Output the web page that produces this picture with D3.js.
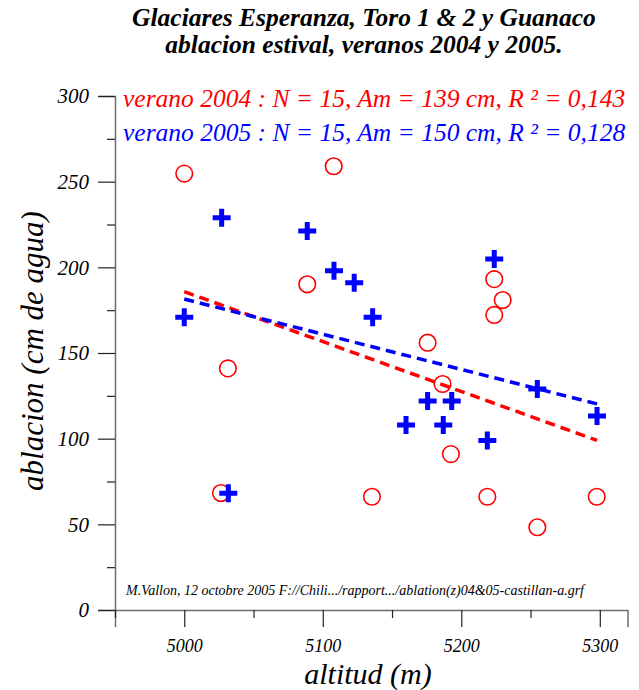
<!DOCTYPE html>
<html><head><meta charset="utf-8"><script src="https://cdn.jsdelivr.net/npm/d3@7"></script>
<style>
@font-face { font-family: "ChartSerif"; font-style: italic; font-weight: 400; src: local("Liberation Serif Italic"), local("LiberationSerif-Italic"), local("Tinos Italic"), local("Times New Roman Italic"); }
@font-face { font-family: "ChartSerif"; font-style: italic; font-weight: 700; src: local("Liberation Serif Bold Italic"), local("LiberationSerif-BoldItalic"), local("Tinos Bold Italic"), local("Times New Roman Bold Italic"); }
</style>
</head>
<body style="margin:0">
<script>
// ---- Data ----
const alt2004 = [5000, 5107.9, 5088.8, 5031.5, 5026.5, 5135.5, 5175.7, 5186.5, 5192.5, 5223.8, 5229.9, 5223.8, 5218.8, 5254.9, 5297.8];
const abl2004 = [254.7, 259.0, 190.1, 141.0, 68.3, 66.1, 156.0, 131.9, 91.0, 193.1, 180.9, 172.2, 66.1, 48.3, 66.1];
const alt2005 = [5027.0, 5088.8, 5108.1, 5122.7, 5136.0, 5000, 5223.8, 5254.9, 5298.0, 5175.7, 5193.1, 5160.1, 5187.0, 5218.8, 5031.8];
const abl2005 = [229.0, 221.2, 198.0, 191.0, 170.8, 170.8, 204.9, 129.0, 113.2, 122.0, 122.0, 108.0, 108.0, 99.0, 68.1];
const fitAlt = [5000, 5298];
const fit2004 = [185.8, 99.0];
const fit2005 = [181.5, 120.3];
const xTicks = [5000, 5100, 5200, 5300];
const xMinor = [4950, 5050, 5150, 5250];
const yTicks = [0, 50, 100, 150, 200, 250, 300];
const yMinor = [25, 75, 125, 175, 225, 275];
const titleLines = ["Glaciares Esperanza, Toro 1 & 2 y Guanaco", "ablacion estival, veranos 2004 y 2005."];
const legend2004 = "verano 2004 : N = 15, Am = 139 cm, R ² = 0,143";
const legend2005 = "verano 2005 : N = 15, Am = 150 cm, R ² = 0,128";
const note = "M.Vallon, 12 octobre 2005 F://Chili.../rapport.../ablation(z)04&05-castillan-a.grf";

// ---- Layout ----
const W = 639, H = 690;
const FAM = `"Liberation Serif", "ChartSerif", "Tinos", "Times New Roman", "Nimbus Roman", "FreeSerif", "DejaVu Serif"`;
const svg = d3.select("body").append("svg").attr("width", W).attr("height", H)
  .attr("font-family", "Liberation Serif").attr("font-style", "italic");

function styleText(sel, size) {
  return sel.attr("font-size", size).attr("font-style", "italic")
    .attr("font-family", "Liberation Serif")
    .style("font-family", FAM);
}

const x = d3.scaleLinear().domain([4950, 5320]).range([115, 627.5]);
const y = d3.scaleLinear().domain([0, 300]).range([610, 96]);

const axisColor = "#6e6e6e";
const tickColor = "#222";

// Title
styleText(svg.selectAll("text.title").data(titleLines).join("text")
  .attr("class", "title")
  .attr("x", 364).attr("y", (d, i) => 26 + i * 27)
  .attr("text-anchor", "middle")
  .attr("font-weight", "bold")
  .text(d => d), 25.5);

// Y axis
const yAxisG = svg.append("g").attr("transform", `translate(${x.range()[0]},0)`);
yAxisG.call(d3.axisLeft(y).tickValues(yTicks).tickSize(17).tickFormat(d3.format("d")).tickPadding(9));
yAxisG.append("g").call(d3.axisLeft(y).tickValues(yMinor).tickSize(8).tickFormat(""))
  .select(".domain").remove();
yAxisG.selectAll("g").attr("font-family", "Liberation Serif");
yAxisG.attr("font-family", "Liberation Serif");
yAxisG.selectAll(".domain").attr("stroke", axisColor).attr("stroke-width", 1.5);
yAxisG.selectAll(".tick line").attr("stroke", tickColor).attr("stroke-width", 1.2);
styleText(yAxisG.selectAll(".tick text"), 21).attr("fill", "#000");

// X axis
const xAxisG = svg.append("g").attr("transform", `translate(0,${y.range()[0]})`);
xAxisG.call(d3.axisBottom(x).tickValues(xTicks).tickSize(17).tickFormat(d3.format("d")).tickPadding(12));
xAxisG.append("g").call(d3.axisBottom(x).tickValues(xMinor).tickSize(8).tickFormat(""))
  .select(".domain").remove();
xAxisG.selectAll("g").attr("font-family", "Liberation Serif");
xAxisG.attr("font-family", "Liberation Serif");
xAxisG.selectAll(".domain").attr("stroke", axisColor).attr("stroke-width", 1.5);
xAxisG.selectAll(".tick line").attr("stroke", tickColor).attr("stroke-width", 1.2);
styleText(xAxisG.selectAll(".tick text"), 18).attr("fill", "#000");

// Axis titles
styleText(svg.append("text")
  .attr("x", 368).attr("y", 684)
  .attr("text-anchor", "middle")
  .text("altitud (m)"), 30);
styleText(svg.append("text")
  .attr("transform", "translate(43,351) rotate(-90)")
  .attr("text-anchor", "middle")
  .text("ablacion (cm de agua)"), 31);

// Legend text
styleText(svg.append("text").attr("x", 123).attr("y", 107).attr("fill", "#ff0000").text(legend2004), 25.5);
styleText(svg.append("text").attr("x", 123).attr("y", 141).attr("fill", "#0000ff").text(legend2005), 25.5);

// Note
styleText(svg.append("text").attr("x", 126).attr("y", 595).attr("fill", "#000").text(note), 14);

const d2004 = alt2004.map((a, i) => ({ a, v: abl2004[i] }));
const d2005 = alt2005.map((a, i) => ({ a, v: abl2005[i] }));

// 2004 circles
svg.append("g").selectAll("circle").data(d2004).join("circle")
  .attr("cx", d => x(d.a)).attr("cy", d => y(d.v)).attr("r", 8.3)
  .attr("fill", "none").attr("stroke", "#ff0000").attr("stroke-width", 1.6);

// Regression lines
const lineGen = d3.line().x(d => x(d[0])).y(d => y(d[1]));
svg.append("path").datum(fitAlt.map((a, i) => [a, fit2004[i]]))
  .attr("d", lineGen).attr("fill", "none").attr("stroke", "#ff0000")
  .attr("stroke-width", 3.5).attr("stroke-dasharray", "10,6");
svg.append("path").datum(fitAlt.map((a, i) => [a, fit2005[i]]))
  .attr("d", lineGen).attr("fill", "none").attr("stroke", "#0000ff")
  .attr("stroke-width", 3.5).attr("stroke-dasharray", "10,6");

// 2005 crosses
const arm = 9, th = 5;
const crossPath = `M${-arm},${-th/2}H${-th/2}V${-arm}H${th/2}V${-th/2}H${arm}V${th/2}H${th/2}V${arm}H${-th/2}V${th/2}H${-arm}Z`;
svg.append("g").selectAll("path").data(d2005).join("path")
  .attr("transform", d => `translate(${x(d.a)},${y(d.v)})`)
  .attr("d", crossPath).attr("fill", "#0000ff");
</script></body></html>
